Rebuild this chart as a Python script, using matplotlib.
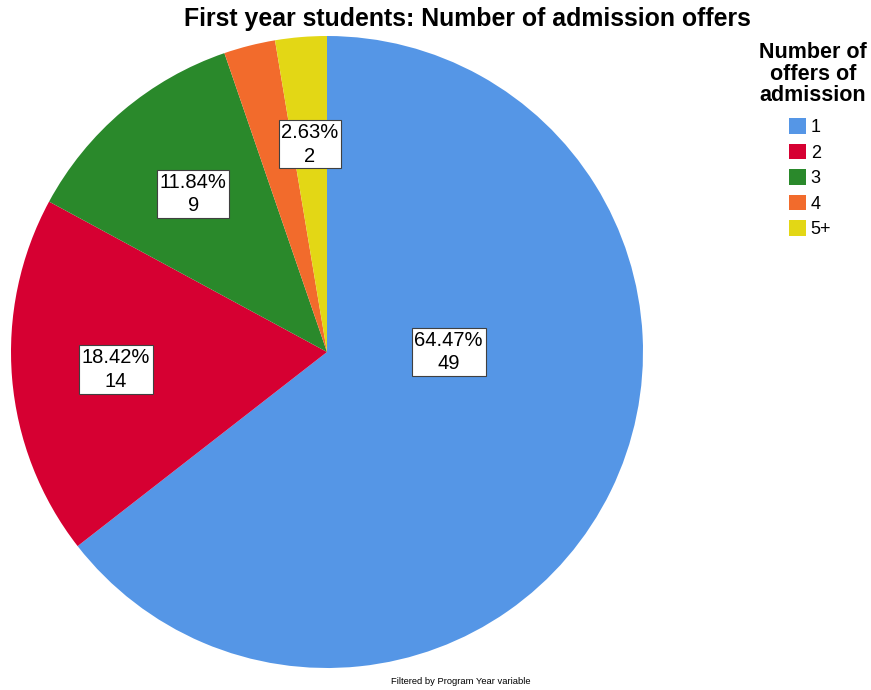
import matplotlib.pyplot as plt
import numpy as np

plt.rcParams['font.family'] = ['Liberation Sans', 'DejaVu Sans']

categories = ['1', '2', '3', '4', '5+']
counts = [49, 14, 9, 2, 2]
colors = ['#5596E6', '#D60032', '#2A892B', '#F26B2C', '#E3D715']
# label radius (fraction of pie radius) per slice; None = label hidden
label_radius = [0.385, 0.67, 0.655, None, 0.66]

fig = plt.figure(figsize=(8.71, 6.9), dpi=100)
ax = fig.add_axes([11 / 871, 22 / 690, 632 / 871, 632 / 690])

wedges, _ = ax.pie(counts, colors=colors, startangle=90, counterclock=False,
                   radius=1.0, wedgeprops=dict(linewidth=0))
ax.set_xlim(-1, 1)
ax.set_ylim(-1, 1)
ax.set_aspect('equal')
ax.axis('off')

total = sum(counts)
for i, (w, n) in enumerate(zip(wedges, counts)):
    r = label_radius[i]
    if r is None:
        continue
    if i == 0:
        # big slice: label sits on the horizontal through the centre
        x, y = r, 0.0
    else:
        mid = np.deg2rad((w.theta1 + w.theta2) / 2)
        x, y = r * np.cos(mid), r * np.sin(mid)
    ax.text(x, y, f'{n / total * 100:.2f}%\n{n}', ha='center', va='center',
            fontsize=14.5, linespacing=1.32,
            bbox=dict(boxstyle='square,pad=0.13', facecolor='white',
                      edgecolor='#404040', linewidth=0.8))

fig.text(467 / 871, 1 - 19 / 690, 'First year students: Number of admission offers',
         ha='center', va='center', fontsize=17.9, fontweight='bold')

fig.text(813 / 871, 1 - 74 / 690, 'Number of\noffers of\nadmission',
         ha='center', va='center', fontsize=15.5, fontweight='bold',
         linespacing=1.06)
leg = fig.legend(wedges, categories, loc='upper left',
                 bbox_to_anchor=(789 / 871, 1 - 118 / 690), frameon=False,
                 fontsize=13, handlelength=0.95, handleheight=0.95,
                 handletextpad=0.25, labelspacing=0.42, borderpad=0,
                 borderaxespad=0)

fig.text(461 / 871, 1 - 682 / 690, 'Filtered by Program Year variable',
         ha='center', va='center', fontsize=6.75)

fig.savefig('out.png', dpi=100)
